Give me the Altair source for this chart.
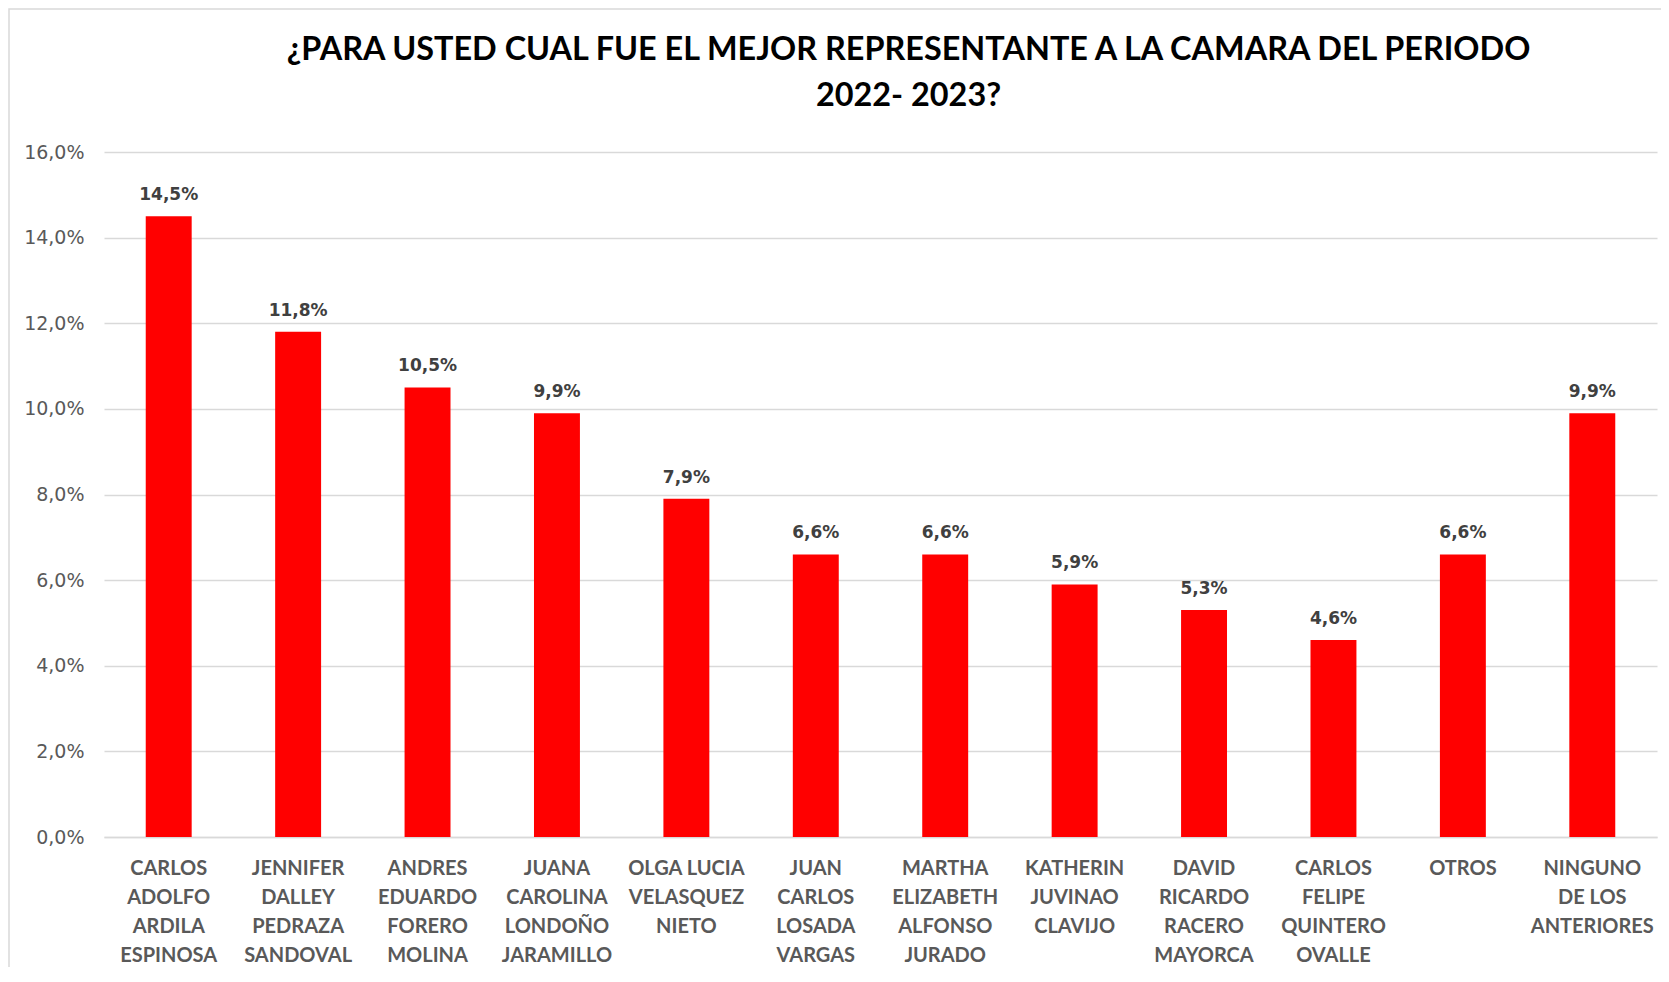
import altair as alt
import pandas as pd

label_lines = [
    ["CARLOS", "ADOLFO", "ARDILA", "ESPINOSA"],
    ["JENNIFER", "DALLEY", "PEDRAZA", "SANDOVAL"],
    ["ANDRES", "EDUARDO", "FORERO", "MOLINA"],
    ["JUANA", "CAROLINA", "LONDOÑO", "JARAMILLO"],
    ["OLGA LUCIA", "VELASQUEZ", "NIETO"],
    ["JUAN", "CARLOS", "LOSADA", "VARGAS"],
    ["MARTHA", "ELIZABETH", "ALFONSO", "JURADO"],
    ["KATHERIN", "JUVINAO", "CLAVIJO"],
    ["DAVID", "RICARDO", "RACERO", "MAYORCA"],
    ["CARLOS", "FELIPE", "QUINTERO", "OVALLE"],
    ["OTROS"],
    ["NINGUNO", "DE LOS", "ANTERIORES"],
]
values = [0.145, 0.118, 0.105, 0.099, 0.079, 0.066, 0.066, 0.059, 0.053, 0.046, 0.066, 0.099]
y_ticks = [0, 0.02, 0.04, 0.06, 0.08, 0.10, 0.12, 0.14, 0.16]

categories = ["|".join(l) for l in label_lines]
df = pd.DataFrame({"cat": categories, "val": values})

W, H = 1553, 685

x = alt.X(
    "cat:N",
    sort=None,
    scale=alt.Scale(paddingInner=0.645, paddingOuter=0.3225),
    axis=alt.Axis(
        title=None,
        labelAngle=0,
        labelExpr="split(datum.label, '|')",
        labelFont="Lato",
        labelFontWeight="bold",
        labelFontSize=20,
        labelColor="#595959",
        labelLineHeight=29,
        labelBaseline="top",
        labelPadding=21,
        labelLimit=200,
        ticks=False,
        domain=True,
        domainColor="#d9d9d9",
        domainWidth=1.3,
        grid=False,
    ),
)
y = alt.Y(
    "val:Q",
    scale=alt.Scale(domain=[0, 0.16], nice=False),
    axis=alt.Axis(
        title=None,
        values=y_ticks,
        labelExpr="replace(format(datum.value, '.1%'), '.', ',')",
        labelFont="DejaVu Sans",
        labelFontSize=19,
        labelColor="#595959",
        labelPadding=20,
        ticks=False,
        domain=False,
        grid=True,
        gridColor="#d9d9d9",
        gridWidth=1.3,
    ),
)

base = alt.Chart(df)

border = base.mark_rect(fill=None, stroke="#d9d9d9", strokeWidth=1.5).encode(
    x=alt.value(-95), x2=alt.value(W + 20), y=alt.value(-143), y2=alt.value(H + 150)
).transform_filter("datum.cat == '" + categories[0] + "'")

bars = base.mark_bar(color="#FF0000").encode(x=x, y=y)

labels = base.mark_text(
    baseline="alphabetic", dy=-16, font="DejaVu Sans", fontWeight="bold", fontSize=17, color="#404040"
).transform_calculate(
    lab="replace(format(datum.val, '.1%'), '.', ',')"
).encode(x=x, y=y, text="lab:N")

chart = alt.layer(border, bars, labels).properties(
    width=W,
    height=H,
    title=alt.TitleParams(
        text=["¿PARA USTED CUAL FUE EL MEJOR REPRESENTANTE A LA CAMARA DEL PERIODO", "2022- 2023?"],
        font="Lato",
        fontSize=32.4,
        fontWeight="bold",
        color="#000000",
        lineHeight=46,
        anchor="middle",
        frame="group",
        dx=28,
        offset=-104,
    ),
    autosize=alt.AutoSizeParams(type="none"),
    padding={"left": 96, "top": 144, "right": 4, "bottom": 130},
).configure(background="white").configure_view(strokeWidth=0, stroke="transparent")

chart.save("out.html", embed_options={"renderer": "svg", "actions": False})
